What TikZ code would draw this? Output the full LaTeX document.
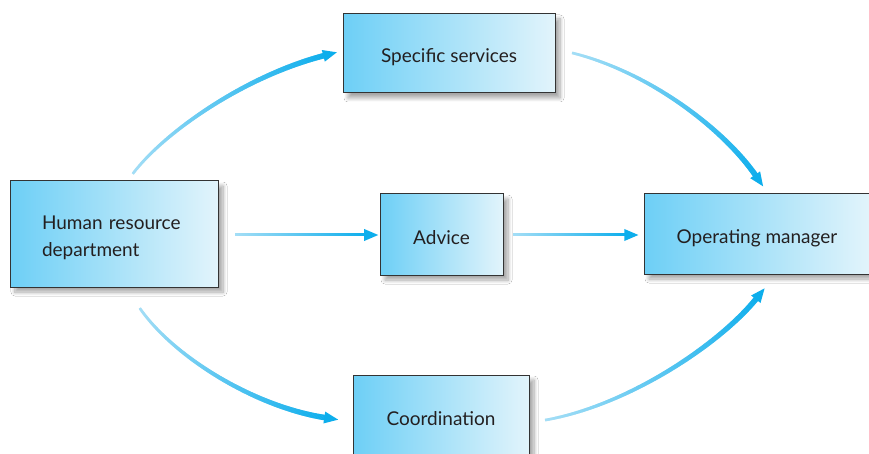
\documentclass[tikz,border=0pt]{standalone}
\usepackage{fontspec}
\setmainfont{Lato}
\usetikzlibrary{calc,decorations.markings,shadows.blur}
\definecolor{boxL}{HTML}{6DCFF6}
\definecolor{boxR}{HTML}{E2F4FB}
\definecolor{arrL}{HTML}{A4DEF6}
\definecolor{arrD}{HTML}{0DAEEC}
\definecolor{txt}{HTML}{231F20}
\tikzset{
  box/.style={draw=black!80, line width=1pt, left color=boxL, right color=boxR,
    text=txt, font=\fontsize{19}{27}\selectfont,
    blur shadow={shadow xshift=5pt, shadow yshift=-5pt, shadow blur radius=4pt, shadow blur steps=8, shadow opacity=35}},
  oneline/.style={text height=19pt, text depth=0pt},
  % flow drawn as short overlapping pieces: colour runs light to dark, width #1 to #2
  flow/.style 2 args={
    postaction={decorate, decoration={markings,
      mark=between positions 0 and 1 step 0.6pt with {
        \pgfmathsetmacro\fr{\pgfkeysvalueof{/pgf/decoration/mark info/distance from start}/\pgfdecoratedpathlength}
        \pgfmathsetmacro\pc{100*\fr}
        \pgfmathsetmacro\lw{#1+(#2-#1)*\fr}
        \draw[line width=\lw pt, color=arrD!\pc!arrL] (-0.5pt,0) -- (0.5pt,0);
      }}},
    postaction={decorate, decoration={markings,
      mark=at position 0.99 with {
        \fill[arrD] (-1pt,-6pt) -- (13pt,0) -- (-1pt,6pt) -- cycle;
      }}}
  }
}
\begin{document}
\begin{tikzpicture}[x=1pt,y=-1pt]
\clip (0,0) rectangle (869,454);
\fill[white] (0,0) rectangle (869,454);

\node[box, minimum width=208pt, minimum height=106pt, align=left, text width=144pt] (hr) at (114,234) {\rule{0pt}{22pt}Human resource\\department};
\node[box, oneline, minimum width=212pt, minimum height=79pt] (ss) at (449,53.5) {Specific services};
\node[box, oneline, minimum width=123pt, minimum height=81pt] (adv) at (441.5,234.5) {Advice};
\node[box, oneline, minimum width=226pt, minimum height=80pt] (om) at (757,234) {Operating manager};
\node[box, text height=17pt, text depth=0pt, minimum width=176pt, minimum height=84pt] (co) at (441,417) {Coordination};

% free ends of the connectors
\coordinate (s1) at ($(hr.north)+(19,-7)$);
\coordinate (e1) at ($(ss.west)+(-16,1.5)$);
\coordinate (s2) at ($(ss.east)+(17,-0.5)$);
\coordinate (e2) at ($(om.north)+(0,-16)$);
\coordinate (s3) at ($(hr.south)+(26,21)$);
\coordinate (e3) at ($(co.west)+(-25,1)$);
\coordinate (s4) at ($(co.east)+(16,3)$);
\coordinate (e4) at ($(om.south)+(1,22)$);
\coordinate (s5) at ($(hr.east)+(17,1)$);
\coordinate (e5) at ($(adv.west)+(-13,0.5)$);
\coordinate (s6) at ($(adv.east)+(10,0.5)$);
\coordinate (e6) at ($(om.west)+(-17,1)$);

\path[flow={2.5}{5.5}] (s1) .. controls ($(s1)+(32,-42)$) and ($(e1)+(-80,20)$) .. (e1);
\path[flow={2.5}{5.5}] (s2) .. controls ($(s2)+(80,20)$) and ($(e2)+(-30,-45)$) .. (e2);
\path[flow={2.5}{5.5}] (s3) .. controls ($(s3)+(35,50)$) and ($(e3)+(-70,-10)$) .. (e3);
\path[flow={2.5}{5.5}] (s4) .. controls ($(s4)+(85,-15)$) and ($(e4)+(-35,45)$) .. (e4);
\path[flow={3}{3}] (s5) -- (e5);
\path[flow={3}{3}] (s6) -- (e6);
\end{tikzpicture}
\end{document}
